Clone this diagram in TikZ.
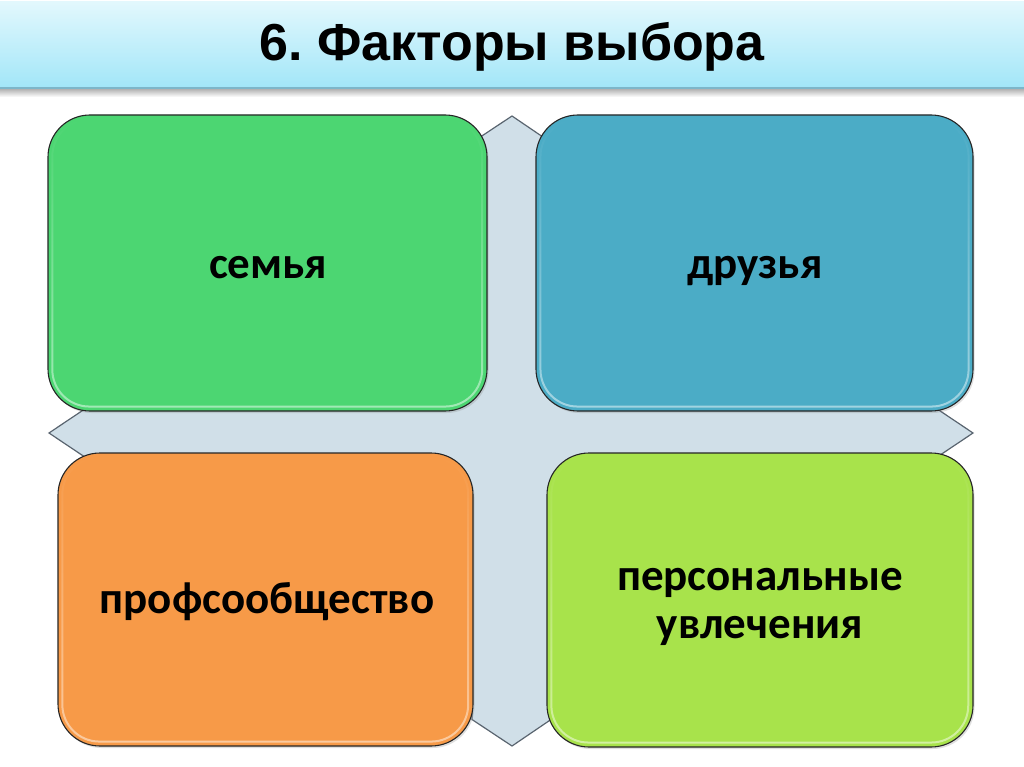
\documentclass[tikz,border=0pt]{standalone}
\usepackage{fontspec}
\setmainfont{Carlito}
\newfontfamily\titlefont{Liberation Sans}
\usetikzlibrary{calc,shadows,fadings}
\definecolor{titletop}{HTML}{E2F8FD}
\definecolor{titlebot}{HTML}{A2E6F8}
\definecolor{titleline}{HTML}{7DB6C9}
\definecolor{greenc}{HTML}{4CD672}
\definecolor{bluec}{HTML}{4BACC6}
\definecolor{orangec}{HTML}{F79A48}
\definecolor{limec}{HTML}{A8E34B}
\definecolor{crossfill}{HTML}{D0DFE8}
\definecolor{crossline}{HTML}{5A6570}
\tikzset{
  factor/.style={draw=black!85, line width=1.1pt, rounded corners=42pt,
    inner sep=0pt,
    drop shadow={opacity=0.25, shadow xshift=1.5pt, shadow yshift=-2pt}},
  lbl/.style={inner sep=0pt, align=center, anchor=base,
    font=\fontsize{45}{48}\selectfont\bfseries},
  gloss/.style={draw=#1, line width=2pt, rounded corners=37pt, opacity=0.75,
    path fading=north}
}
\begin{document}
\frenchspacing
\begin{tikzpicture}[x=1pt,y=-1pt]
\useasboundingbox (0,0) rectangle (1024,767);
\fill[white] (0,0) rectangle (1024,767);
% title bar
\shade[top color=titletop,bottom color=titlebot] (0,2) rectangle (1024,88);
\shade[top color=black!30,bottom color=white] (0,89) rectangle (1024,97);
\draw[titleline,line width=2.5pt] (0,88) -- (1024,88);
\node[font=\titlefont\bfseries\fontsize{52}{60}\selectfont, anchor=base, inner sep=0pt] (title) at (512,61) {6. Факторы выбора};
% background cross
\draw[fill=crossfill, draw=crossline, line width=1.2pt, line join=miter]
  (472,142.5) -- (512,116) -- (551,142.5) -- (551,376) -- (888,376) -- (973,433)
  -- (888,490) -- (551,490) -- (551,719.5) -- (512,746) -- (472,719.5)
  -- (472,490) -- (134,490) -- (49,433) -- (134,376) -- (472,376) -- cycle;
% boxes
\node[factor, fill=greenc, minimum width=439pt, minimum height=296pt] (fam) at (267.5,263) {};
\node[factor, fill=bluec, minimum width=437pt, minimum height=296pt] (fr) at (754.5,263) {};
\node[factor, fill=orangec, minimum width=415pt, minimum height=293pt] (prof) at (265.5,599.5) {};
\node[factor, fill=limec, minimum width=426pt, minimum height=294pt] (pers) at (760,600) {};
% gloss highlights
\draw[gloss=greenc!35!white] ($(fam.north west)+(5,5)$) rectangle ($(fam.south east)+(-5,-5)$);
\draw[gloss=bluec!35!white] ($(fr.north west)+(5,5)$) rectangle ($(fr.south east)+(-5,-5)$);
\draw[gloss=orangec!35!white] ($(prof.north west)+(5,5)$) rectangle ($(prof.south east)+(-5,-5)$);
\draw[gloss=limec!35!white] ($(pers.north west)+(5,5)$) rectangle ($(pers.south east)+(-5,-5)$);
% labels
\node[lbl] (famt) at (268,278) {семья};
\node[lbl] (frt) at (755,278) {друзья};
\node[lbl] (proft) at (267,613) {профсообщество};
\node[lbl] (perst) at (760,638) {персональные\\увлечения};
\end{tikzpicture}
\end{document}
